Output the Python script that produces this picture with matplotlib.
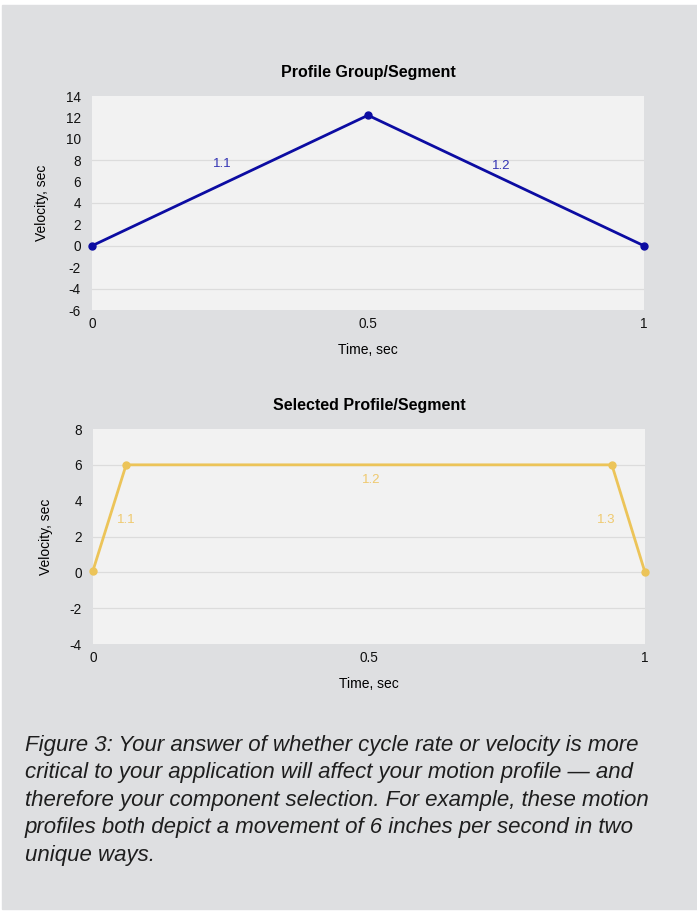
import matplotlib
matplotlib.use('Agg')
import matplotlib.pyplot as plt
from matplotlib.patches import Rectangle

plt.rcParams['font.family'] = ['Liberation Sans', 'DejaVu Sans']
plt.rcParams['axes.unicode_minus'] = False

# top chart: profile group / segment
group_t = [0, 0.5, 1]
group_v = [0, 12.2, 0]
group_seg = ['1.1', '1.2']
group_seg_pos = [(0.236, 7.6), (0.742, 7.5)]

# bottom chart: selected profile / segment
sel_t = [0, 0.06, 0.94, 1]
sel_v = [0.1, 6, 6, 0]
sel_seg = ['1.1', '1.2', '1.3']
sel_seg_pos = [(0.06, 2.9), (0.504, 5.15), (0.929, 2.9)]

xticks = [0, 0.5, 1]
xtick_labels = ['0', '0.5', '1']

caption = ("Figure 3: Your answer of whether cycle rate or velocity is more\n"
           "critical to your application will affect your motion profile \u2014 and\n"
           "therefore your component selection. For example, these motion\n"
           "profiles both depict a movement of 6 inches per second in two\n"
           "unique ways.")

BG = '#dedfe1'
PLOT_BG = '#f2f2f2'
GRID = '#dcdcdc'
BLUE = '#0c0ca2'
BLUE_TXT = '#3333b3'
GOLD = '#ecc459'
GOLD_TXT = '#efc96e'

W, H = 697, 911
fig = plt.figure(figsize=(W / 100, H / 100), dpi=100)
fig.patch.set_facecolor('white')
fig.patches.append(Rectangle((2 / W, 2 / H), 1 - 2 / W, 1 - 7 / H,
                             transform=fig.transFigure, color=BG, zorder=-10))


def panel(rect, t, v, color, txtcolor, segs, segpos, ylim, yticks, grid, title):
    ax = fig.add_axes(rect)
    ax.set_facecolor(PLOT_BG)
    for s in ax.spines.values():
        s.set_visible(False)
    for g in grid:
        ax.axhline(g, color=GRID, lw=0.9, zorder=1)
    ax.plot(t, v, color=color, lw=2, marker='o', ms=5, zorder=3, clip_on=False)
    for s, (x, y) in zip(segs, segpos):
        ax.text(x, y, s, color=txtcolor, fontsize=9.5, ha='center', va='center')
    ax.set_xlim(0, 1)
    ax.set_ylim(*ylim)
    ax.set_yticks(yticks)
    ax.set_xticks(xticks)
    ax.set_xticklabels(xtick_labels)
    ax.tick_params(length=0, labelsize=9.8, colors='#111111')
    ax.tick_params(axis='y', pad=8)
    ax.tick_params(axis='x', pad=5)
    ax.set_xlabel('Time, sec', fontsize=10, labelpad=9)
    ax.set_ylabel('Velocity, sec', fontsize=10, labelpad=12)
    ax.set_title(title, fontsize=11.5, fontweight='bold', pad=14)
    return ax


panel([92 / W, 1 - 310 / H, 552 / W, 214 / H], group_t, group_v, BLUE, BLUE_TXT,
      group_seg, group_seg_pos, (-6, 14), list(range(-6, 15, 2)), [-4, 0, 4, 8],
      'Profile Group/Segment')

panel([93 / W, 1 - 644 / H, 552 / W, 215 / H], sel_t, sel_v, GOLD, GOLD_TXT,
      sel_seg, sel_seg_pos, (-4, 8), list(range(-4, 9, 2)), [-2, 0, 2, 6],
      'Selected Profile/Segment')

fig.text(25 / W, 1 - 735 / H, caption, fontsize=16.0, style='italic',
         color='#1e1e1e', ha='left', va='top', linespacing=1.4)

fig.savefig('out.png', dpi=100, facecolor=fig.get_facecolor())
